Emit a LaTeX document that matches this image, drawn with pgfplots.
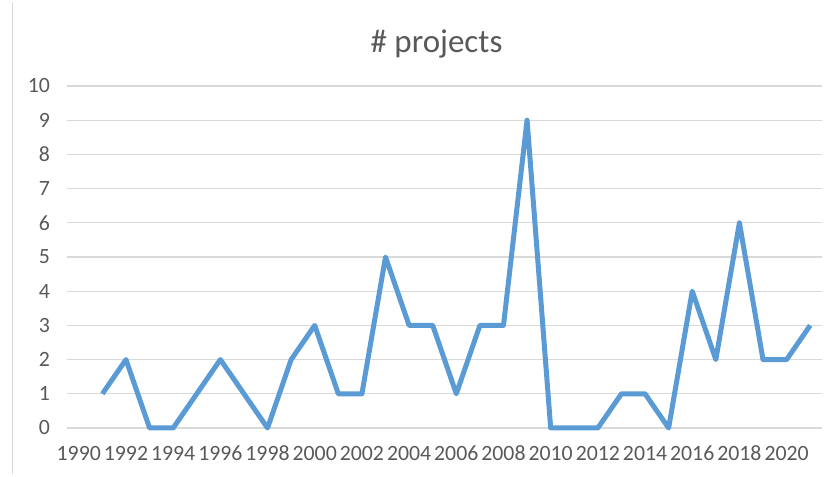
\documentclass[border=0pt]{standalone}
\usepackage{pgfplots}
\pgfplotsset{compat=1.18}
\usepackage{fontspec}
\setmainfont{Carlito}
\definecolor{exblue}{HTML}{5B9BD5}
\definecolor{txtgray}{HTML}{595959}
\definecolor{gridgray}{HTML}{D9D9D9}
\begin{document}
\begin{tikzpicture}
\begin{axis}[
  scale only axis,
  width=377.5pt, height=171pt,
  xmin=1989.5, xmax=2021.5,
  ymin=0, ymax=10,
  xtick={1990,1992,...,2020},
  ytick={0,1,...,10},
  /pgf/number format/assume math mode=true,
  /pgf/number format/set thousands separator={},
  axis line style={draw=none},
  major tick length=0pt,
  ymajorgrids,
  grid style={gridgray, line width=0.6pt},
  tick label style={font=\fontsize{10.9}{13}\selectfont, text=txtgray},
  xticklabel style={yshift=-5.5pt},
  yticklabel style={xshift=-5pt},
  title={\# projects},
  title style={font=\fontsize{16.5}{19}\selectfont, text=txtgray, at={(0.5,1)}, anchor=center, yshift=15pt, xshift=-4pt},
  clip=false,
]
\addplot[exblue, line width=2.5pt, line join=round, mark=none] coordinates {
(1991,1) (1992,2) (1993,0) (1994,0) (1995,1) (1996,2) (1997,1) (1998,0)
(1999,2) (2000,3) (2001,1) (2002,1) (2003,5) (2004,3) (2005,3) (2006,1)
(2007,3) (2008,3) (2009,9) (2010,0) (2011,0) (2012,0) (2013,1) (2014,1)
(2015,0) (2016,4) (2017,2) (2018,6) (2019,2) (2020,2) (2021,3)
};
\end{axis}
\draw[gridgray, line width=0.5pt] (-27.25pt,-23pt) -- (-27.25pt,213pt);
\pgfresetboundingbox
\path[use as bounding box] (-33.5pt,-24.5pt) rectangle (382.5pt,214pt);
\end{tikzpicture}
\end{document}
